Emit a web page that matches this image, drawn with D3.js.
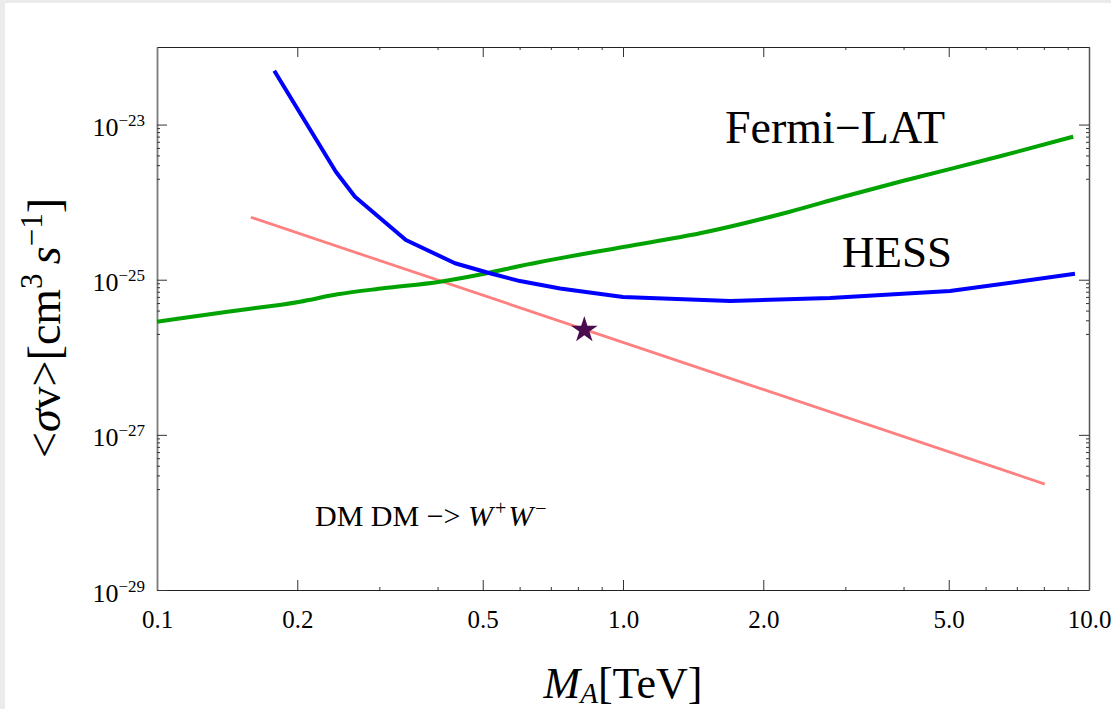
<!DOCTYPE html>
<html>
<head>
<meta charset="utf-8">
<script src="https://cdn.jsdelivr.net/npm/d3@7"></script>
<style>
  body { margin: 0; background: #ebebeb; }
  svg { display: block; }
  text { font-family: "Liberation Serif", "Times New Roman", serif; fill: #000; }
</style>
</head>
<body>
<div id="content"></div>
<script>
// Screen dimensions
var w = 1111;
var h = 709;

// Plot frame (pixels)
var pLeft = 157, pRight = 1089, pTop = 47, pBottom = 590;

// HESS limit (TeV, cm^3/s)
var hessMass  = [0.1785, 0.242, 0.266, 0.342, 0.436, 0.518, 0.601, 0.733, 1.0, 1.70, 2.78, 5.03, 9.33];
var hessSigma = [4.95e-23, 2.47e-24, 1.175e-24, 3.25e-25, 1.63e-25, 1.21e-25, 9.6e-26, 7.7e-26, 5.98e-26, 5.32e-26, 5.81e-26, 7.15e-26, 1.19e-25];

// Fermi-LAT limit
var fermiMass  = [0.1, 0.1456, 0.2027, 0.244, 0.3055, 0.405, 0.510, 0.601, 1.0, 1.463, 2.28, 2.97, 4.06, 6.44, 9.25];
var fermiSigma = [2.88e-26, 3.95e-26, 5.21e-26, 6.48e-26, 7.75e-26, 9.42e-26, 1.21e-25, 1.50e-25, 2.64e-25, 3.97e-25, 7.53e-25, 1.175e-24, 1.93e-24, 3.90e-24, 6.98e-24];

// model prediction (pink line)
var modelMass  = [0.159, 1.0, 8.04];
var modelSigma = [6.38e-25, 1.56e-26, 2.32e-28];

// benchmark point (star)
var starMass  = [0.826];
var starSigma = [2.25e-26];

// ticks
var xMajor = [0.1, 0.2, 0.5, 1, 2, 5, 10];
var xMajorLabels = ["0.1", "0.2", "0.5", "1.0", "2.0", "5.0", "10.0"];
var xMinor = [0.3, 0.4, 0.6, 0.7, 0.8, 0.9, 3, 4, 6, 7, 8, 9];
var yMajorExp = [-29, -27, -25, -23];

var yMinor = [];
yMajorExp.forEach(function(e) {
  for (var k = 2; k <= 9; k++) {
    var v = k * Math.pow(10, e - 1);
    if (v >= 1e-29) yMinor.push(v);
  }
});

var svg = d3.select("#content")
  .append("svg")
  .attr("width", w)
  .attr("height", h);

// background: grey page edge, white figure
svg.append("rect").attr("width", w).attr("height", h).attr("fill", "#ebebeb");
svg.append("rect").attr("x", 5).attr("y", 3).attr("width", w - 5).attr("height", h - 3).attr("fill", "#fff");

var x = d3.scaleLog().domain([0.1, 10]).range([pLeft, pRight]);
var y = d3.scaleLog().domain([1e-29, 1e-22]).range([pBottom, pTop]);

function styleAxis(g, domainColor, domainWidth) {
  g.select(".domain").attr("stroke", domainColor).attr("stroke-width", domainWidth);
  g.selectAll(".tick line").attr("stroke", "#333").attr("stroke-width", 1);
}

// bottom axis
var gx = svg.append("g").attr("transform", "translate(0," + pBottom + ")")
  .call(d3.axisBottom(x).tickValues(xMajor).tickSizeInner(-10).tickSizeOuter(0)
    .tickFormat(function(d, i) { return xMajorLabels[i]; }));
styleAxis(gx, "#222", 1.2);
gx.selectAll(".tick text")
  .attr("y", 38).attr("dy", 0)
  .style("font-size", "25px")
  .style("font-family", "'Liberation Serif', serif")
  .attr("fill", "#000");
svg.append("g").attr("transform", "translate(0," + pBottom + ")")
  .call(d3.axisBottom(x).tickValues(xMinor).tickSizeInner(-3).tickSizeOuter(0).tickFormat(""))
  .call(function(g) { g.select(".domain").remove(); styleAxis(g, "#222", 1); });

// top axis
var gt = svg.append("g").attr("transform", "translate(0," + pTop + ")")
  .call(d3.axisTop(x).tickValues(xMajor).tickSizeInner(-10).tickSizeOuter(0).tickFormat(""));
styleAxis(gt, "#222", 1.2);
svg.append("g").attr("transform", "translate(0," + pTop + ")")
  .call(d3.axisTop(x).tickValues(xMinor).tickSizeInner(-3).tickSizeOuter(0).tickFormat(""))
  .call(function(g) { g.select(".domain").remove(); styleAxis(g, "#222", 1); });

// left axis
var yMajor = yMajorExp.map(function(e) { return Math.pow(10, e); });
var gy = svg.append("g").attr("transform", "translate(" + pLeft + ",0)")
  .call(d3.axisLeft(y).tickValues(yMajor).tickSizeInner(-10).tickSizeOuter(0).tickFormat(""));
styleAxis(gy, "#7a7a7a", 1.8);
svg.append("g").attr("transform", "translate(" + pLeft + ",0)")
  .call(d3.axisLeft(y).tickValues(yMinor).tickSizeInner(-3).tickSizeOuter(0).tickFormat(""))
  .call(function(g) { g.select(".domain").remove(); styleAxis(g, "#333", 1); });

// y tick labels 10^e
gy.selectAll(".tick").each(function(d, i) {
  var t = d3.select(this).select("text");
  t.text(null)
    .attr("x", -12).attr("y", 11).attr("dy", 0)
    .attr("text-anchor", "end")
    .style("font-size", "26px")
    .style("font-family", "'Liberation Serif', serif")
    .attr("fill", "#000");
  t.append("tspan").text("10");
  t.append("tspan").attr("dy", -10).style("font-size", "17px").text("\u2212" + (-yMajorExp[i]));
});

// right axis
var gr = svg.append("g").attr("transform", "translate(" + pRight + ",0)")
  .call(d3.axisRight(y).tickValues(yMajor).tickSizeInner(-10).tickSizeOuter(0).tickFormat(""));
styleAxis(gr, "#555", 1.5);
svg.append("g").attr("transform", "translate(" + pRight + ",0)")
  .call(d3.axisRight(y).tickValues(yMinor).tickSizeInner(-3).tickSizeOuter(0).tickFormat(""))
  .call(function(g) { g.select(".domain").remove(); styleAxis(g, "#333", 1); });

// curves
var line = d3.line()
  .x(function(d) { return x(d[0]); })
  .y(function(d) { return y(d[1]); });

svg.append("path")
  .datum(d3.zip(modelMass, modelSigma))
  .attr("d", line)
  .attr("fill", "none")
  .attr("stroke", "#ff8080")
  .attr("stroke-width", 2.8);

svg.append("path")
  .datum(d3.zip(fermiMass, fermiSigma))
  .attr("d", line.curve(d3.curveMonotoneX))
  .attr("fill", "none")
  .attr("stroke", "#00a300")
  .attr("stroke-width", 4)
  .attr("stroke-linejoin", "round");

svg.append("path")
  .datum(d3.zip(hessMass, hessSigma))
  .attr("d", line.curve(d3.curveLinear))
  .attr("fill", "none")
  .attr("stroke", "#0000ff")
  .attr("stroke-width", 4)
  .attr("stroke-linejoin", "round");

svg.selectAll(".star")
  .data(d3.zip(starMass, starSigma))
  .enter()
  .append("path")
  .attr("class", "star")
  .attr("transform", function(d) { return "translate(" + x(d[0]) + "," + y(d[1]) + ")"; })
  .attr("d", d3.symbol(d3.symbolStar, 220))
  .attr("fill", "#4b0c4f");

// labels
svg.append("text").attr("x", 725).attr("y", 143)
  .style("font-size", "46px").text("Fermi\u2212LAT");
svg.append("text").attr("x", 842).attr("y", 267)
  .style("font-size", "45px").text("HESS");

var proc = svg.append("text").attr("x", 315).attr("y", 526).style("font-size", "30px");
proc.append("tspan").text("DM DM \u2212> ");
proc.append("tspan").style("font-style", "italic").text("W");
proc.append("tspan").attr("dx", 2).attr("dy", -11).style("font-size", "20px").text("+");
proc.append("tspan").attr("dx", 2).attr("dy", 11).style("font-style", "italic").text("W");
proc.append("tspan").attr("dx", 2).attr("dy", -11).style("font-size", "20px").text("\u2212");

// axis titles
var xt = svg.append("text").attr("x", 623).attr("y", 698)
  .attr("text-anchor", "middle").style("font-size", "44px");
xt.append("tspan").style("font-style", "italic").text("M");
xt.append("tspan").attr("dy", 5).style("font-style", "italic").style("font-size", "29px").text("A");
xt.append("tspan").attr("dy", -5).text("[TeV]");

var yt = svg.append("text")
  .attr("transform", "translate(60,328) rotate(-90)")
  .attr("text-anchor", "middle").style("font-size", "46px");
yt.append("tspan").text("<");
yt.append("tspan").style("font-style", "italic").text("\u03c3");
yt.append("tspan").text("v>[cm");
yt.append("tspan").attr("dy", -18).style("font-size", "31px").text("3");
yt.append("tspan").attr("dy", 18).style("font-style", "italic").text("\u2009s");
yt.append("tspan").attr("dy", -18).style("font-size", "31px").text("\u22121");
yt.append("tspan").attr("dy", 18).text("]");
</script>
</body>
</html>
